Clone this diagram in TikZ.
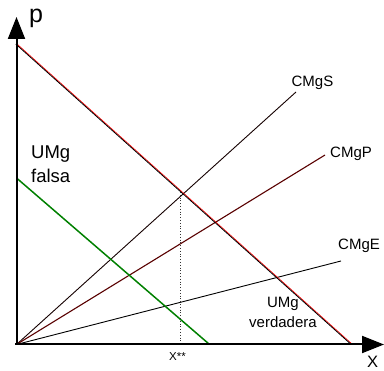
\documentclass[tikz,border=0pt]{standalone}
\usepackage{fontspec}
\setmainfont{Liberation Sans}
\usetikzlibrary{arrows.meta}
\begin{document}
\begin{tikzpicture}[x=1pt,y=-1pt,
  axis/.style={line width=2pt,-{Triangle[length=22pt,width=17pt]}},
  cmg/.style={line width=0.9pt},
  lbl/.style={inner sep=0pt,font=\fontsize{15}{18}\selectfont},
  big/.style={inner sep=0pt,font=\fontsize{18.5}{24.5}\selectfont}]
\useasboundingbox (0,0) rectangle (384,371);
\coordinate (O) at (16.5,344.5);
\coordinate (Ytop) at (16.5,17);
\coordinate (Xend) at (384,344.5);
\coordinate (Ustart) at (16,44);
\coordinate (Uend) at (351,344);
\coordinate (Gstart) at (16.5,178);
\coordinate (Gend) at (209,344);
\coordinate (Send) at (296,92);
\coordinate (Pend) at (325,155);
\coordinate (Eend) at (341,261);
\coordinate (Dtop) at (180,192);
\coordinate (Dbot) at (180,343);
% curves
\draw[cmg,black!92!red] (O) -- (Send);
\draw[cmg,color=black!65!red,line width=1.1pt] (O) -- (Pend);
\draw[cmg,black] (O) -- (Eend);
\draw[line width=1.5pt,color=green!50!black] (Gstart) -- (Gend);
\draw[line width=0.7pt,red,transform canvas={shift={(0.5pt,0.4pt)}}] (Ustart) -- (Uend);
\draw[line width=0.8pt,black,transform canvas={shift={(-0.2pt,-0.1pt)}}] (Ustart) -- (Uend);
\draw[dotted,line width=0.8pt,black!80] (Dtop) -- (Dbot);
% axes
\draw[axis] (O) -- (Ytop);
\draw[axis] ([xshift=-1.5pt]O) -- (Xend);
% labels
\node[inner sep=0pt,anchor=base west,font=\fontsize{25}{25}\selectfont] (p) at (29,23) {p};
\node[inner sep=0pt,anchor=base west,font=\fontsize{16.5}{17}\selectfont] (X) at (367,368) {X};
\node[inner sep=0pt,anchor=base west,font=\fontsize{11.5}{12}\selectfont] (Xss) at (169,361) {X**};
\node[big,anchor=base west,align=left] (umgf) at (31,183) {UMg\\falsa};
\node[lbl,anchor=base] (cmgs) at (312.5,87) {CMgS};
\node[lbl,anchor=base west] (cmgp) at (330,158) {CMgP};
\node[lbl,anchor=base west] (cmge) at (338,250) {CMgE};
\node[lbl,anchor=base,align=center,font=\fontsize{15}{20}\selectfont] (umgv) at (283,328) {UMg\\verdadera};
\end{tikzpicture}
\end{document}
